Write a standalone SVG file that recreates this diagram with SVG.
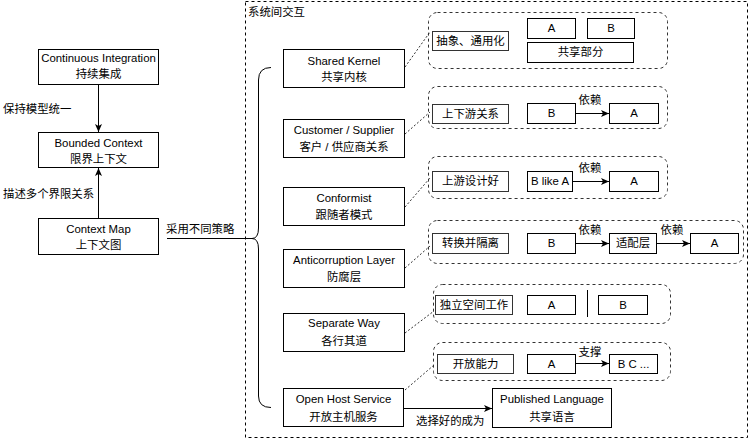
<svg xmlns="http://www.w3.org/2000/svg" width="750" height="440" viewBox="0 0 750 440">
<defs>
<marker id="arr" markerWidth="9" markerHeight="8" refX="8" refY="4" orient="auto" markerUnits="userSpaceOnUse">
<path d="M0,0.5 L8,4 L0,7.5 L2,4 z" fill="#000"/>
</marker>
<style>
text{font-family:"Liberation Sans","Noto Sans CJK SC",sans-serif;font-size:11.4px;fill:#000}
.c{text-anchor:middle}
.box{fill:#fff;stroke:#000;stroke-width:1}
.sbox{fill:#fff;stroke:#333;stroke-width:1}
.grp{fill:none;stroke:#333;stroke-width:1;stroke-dasharray:3 3}
.dl{fill:none;stroke:#333;stroke-width:1;stroke-dasharray:2 2}
.ln{fill:none;stroke:#000;stroke-width:1}
</style>
</defs>
<rect x="245.5" y="1.5" width="502" height="436" fill="none" stroke="#000" stroke-dasharray="3 3"/>
<text x="248" y="16">系统间交互</text>

<g id="ci"><rect class="box" x="38.5" y="49.5" width="120" height="35"/><text class="c" x="98.5" y="62">Continuous Integration</text><text class="c" x="98.5" y="78">持续集成</text></g>
<g id="bc"><rect class="box" x="38.5" y="132.5" width="120" height="35"/><text class="c" x="98.5" y="147">Bounded Context</text><text class="c" x="98.5" y="163">限界上下文</text></g>
<g id="cm"><rect class="box" x="38.5" y="218.5" width="120" height="36"/><text class="c" x="98.5" y="233">Context Map</text><text class="c" x="98.5" y="249">上下文图</text></g>

<g id="sk"><rect class="box" x="283.5" y="49.5" width="121" height="38"/><text class="c" x="344" y="65">Shared Kernel</text><text class="c" x="344" y="81">共享内核</text></g>
<g id="cs"><rect class="box" x="283.5" y="119.5" width="121" height="38"/><text class="c" x="344" y="134">Customer / Supplier</text><text class="c" x="344" y="151">客户 / 供应商关系</text></g>
<g id="cf"><rect class="box" x="283.5" y="187.5" width="121" height="38"/><text class="c" x="344" y="202">Conformist</text><text class="c" x="344" y="219">跟随者模式</text></g>
<g id="acl"><rect class="box" x="283.5" y="249.5" width="121" height="38"/><text class="c" x="344" y="264">Anticorruption Layer</text><text class="c" x="344" y="281">防腐层</text></g>
<g id="sw"><rect class="box" x="283.5" y="313.5" width="121" height="38"/><text class="c" x="344" y="327">Separate Way</text><text class="c" x="344" y="345">各行其道</text></g>
<g id="ohs"><rect class="box" x="283.5" y="388.5" width="120" height="38"/><text class="c" x="343.5" y="403">Open Host Service</text><text class="c" x="343.5" y="421">开放主机服务</text></g>
<g id="pl"><rect class="box" x="492.5" y="388.5" width="119" height="39"/><text class="c" x="552" y="403">Published Language</text><text class="c" x="552" y="421">共享语言</text></g>

<g id="g1"><rect class="grp" x="428.5" y="12.5" width="239" height="56" rx="9"/>
<rect class="sbox" x="432.5" y="31.5" width="76" height="19"/><text class="c" x="470.5" y="45">抽象、通用化</text>
<rect class="box" x="527.5" y="18.5" width="48" height="20"/><text class="c" x="551.5" y="32">A</text>
<rect class="box" x="587.5" y="18.5" width="47" height="20"/><text class="c" x="611" y="32">B</text>
<rect class="box" x="527.5" y="42.5" width="106" height="20"/><text class="c" x="580.5" y="56">共享部分</text></g>

<g id="g2"><rect class="grp" x="428.5" y="86.5" width="239" height="42" rx="9"/>
<rect class="sbox" x="432.5" y="104.5" width="76" height="19"/><text class="c" x="470.5" y="118">上下游关系</text>
<rect class="box" x="527.5" y="103.5" width="48" height="20"/><text class="c" x="551.5" y="117">B</text>
<rect class="box" x="609.5" y="103.5" width="49" height="20"/><text class="c" x="634" y="117">A</text>
<text class="c" x="590" y="104">依赖</text></g>

<g id="g3"><rect class="grp" x="428.5" y="156.5" width="239" height="42" rx="9"/>
<rect class="sbox" x="432.5" y="171.5" width="76" height="20"/><text class="c" x="470.5" y="185">上游设计好</text>
<rect class="box" x="527.5" y="171.5" width="45" height="20"/><text class="c" x="550" y="185">B like A</text>
<rect class="box" x="609.5" y="171.5" width="49" height="20"/><text class="c" x="634" y="185">A</text>
<text class="c" x="590" y="172">依赖</text></g>

<g id="g4"><rect class="grp" x="428.5" y="220.5" width="315" height="43" rx="9"/>
<rect class="sbox" x="432.5" y="233.5" width="76" height="20"/><text class="c" x="470.5" y="247">转换并隔离</text>
<rect class="box" x="527.5" y="233.5" width="48" height="20"/><text class="c" x="551.5" y="247">B</text>
<rect class="box" x="609.5" y="233.5" width="47" height="20"/><text class="c" x="633" y="247">适配层</text>
<rect class="box" x="690.5" y="233.5" width="48" height="20"/><text class="c" x="714.5" y="247">A</text>
<text class="c" x="590" y="234">依赖</text><text class="c" x="672" y="234">依赖</text></g>

<g id="g5"><rect class="grp" x="433.5" y="284.5" width="237" height="39" rx="9"/>
<rect class="sbox" x="435.5" y="295.5" width="77" height="19"/><text class="c" x="474" y="309">独立空间工作</text>
<rect class="box" x="527.5" y="295.5" width="48" height="19"/><text class="c" x="551.5" y="309">A</text>
<line class="ln" x1="587.5" y1="290" x2="587.5" y2="317"/>
<rect class="box" x="598.5" y="295.5" width="49" height="19"/><text class="c" x="623" y="309">B</text></g>

<g id="g6"><rect class="grp" x="433.5" y="342.5" width="237" height="38" rx="9"/>
<rect class="sbox" x="437.5" y="354.5" width="76" height="19"/><text class="c" x="475.5" y="368">开放能力</text>
<rect class="box" x="527.5" y="354.5" width="48" height="19"/><text class="c" x="551.5" y="368">A</text>
<rect class="box" x="609.5" y="354.5" width="48" height="19"/><text class="c" x="633.5" y="368">B C ...</text>
<text class="c" x="590" y="356">支撑</text></g>

<g id="connectors">
<line class="ln" x1="98.5" y1="84.5" x2="98.5" y2="132" marker-end="url(#arr)"/>
<line class="ln" x1="98.5" y1="218.5" x2="98.5" y2="168" marker-end="url(#arr)"/>
<line class="ln" x1="167" y1="238.5" x2="253" y2="238.5"/>
<path class="ln" d="M271,67.5 Q258.5,67.5 258.5,80 L258.5,228 Q258.5,238.5 252,238.5 Q258.5,238.5 258.5,249 L258.5,396 Q258.5,407.5 271,407.5"/>
<line class="ln" x1="403.5" y1="408.5" x2="492" y2="408.5" marker-end="url(#arr)"/>
<line class="ln" x1="575.5" y1="113.5" x2="609" y2="113.5" marker-end="url(#arr)"/>
<line class="ln" x1="572.5" y1="181.5" x2="609" y2="181.5" marker-end="url(#arr)"/>
<line class="ln" x1="575.5" y1="243.5" x2="609" y2="243.5" marker-end="url(#arr)"/>
<line class="ln" x1="656.5" y1="243.5" x2="690" y2="243.5" marker-end="url(#arr)"/>
<line class="ln" x1="575.5" y1="363.5" x2="609" y2="363.5" marker-end="url(#arr)"/>
<line class="dl" x1="405" y1="67" x2="430" y2="32"/>
<line class="dl" x1="405" y1="134" x2="430" y2="112"/>
<line class="dl" x1="405" y1="207" x2="430" y2="178"/>
<line class="dl" x1="405" y1="268" x2="430" y2="246"/>
<line class="dl" x1="405" y1="333" x2="434" y2="311"/>
<line class="dl" x1="405" y1="390" x2="434" y2="365"/>
</g>
<text x="3" y="113">保持模型统一</text>
<text x="3" y="198">描述多个界限关系</text>
<text x="166" y="233">采用不同策略</text>
<text x="416" y="425">选择好的成为</text>
</svg>
